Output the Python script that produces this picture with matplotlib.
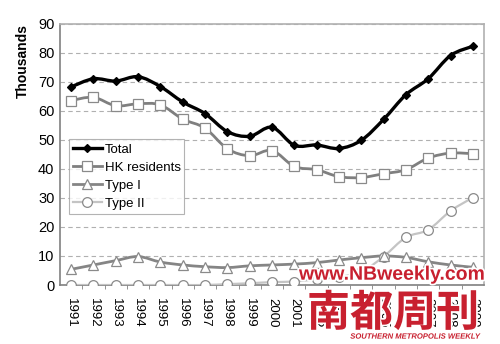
import matplotlib
matplotlib.use("Agg")
import matplotlib.pyplot as plt
import matplotlib.patheffects as pe
from matplotlib.path import Path
from matplotlib.patches import PathPatch

plt.rcParams['font.family'] = ['Liberation Sans', 'DejaVu Sans']

years = [str(y) for y in range(1991, 2010)]
total = [68.2, 71.0, 70.2, 71.7, 68.3, 63.0, 59.0, 52.8, 51.2, 54.3,
         48.1, 48.2, 47.0, 49.8, 57.0, 65.5, 71.0, 79.0, 82.2]
hk_residents = [63.5, 64.6, 61.7, 62.4, 62.0, 57.1, 54.0, 46.9, 44.5, 46.3,
                40.8, 39.7, 37.3, 37.0, 38.3, 39.7, 43.7, 45.4, 45.2]
type_1 = [5.4, 6.9, 8.4, 9.8, 7.9, 6.9, 6.3, 6.0, 6.6, 6.9,
          7.2, 7.7, 8.6, 9.4, 10.0, 9.5, 8.0, 6.9, 6.1]
type_2 = [0.0, 0.0, 0.0, 0.0, 0.0, 0.0, 0.0, 0.3, 0.6, 1.0,
          1.2, 2.0, 2.8, 4.5, 9.8, 16.4, 19.0, 25.5, 30.1]
y_ticks = [0, 10, 20, 30, 40, 50, 60, 70, 80, 90]


def smooth_path(xs, ys):
    # Excel-style smoothed line: Catmull-Rom turned into cubic Bezier segments
    pts = list(zip(xs, ys))
    verts = [pts[0]]
    codes = [Path.MOVETO]
    n = len(pts)
    for i in range(n - 1):
        p0 = pts[max(i - 1, 0)]
        p1 = pts[i]
        p2 = pts[i + 1]
        p3 = pts[min(i + 2, n - 1)]
        c1 = (p1[0] + (p2[0] - p0[0]) / 6, p1[1] + (p2[1] - p0[1]) / 6)
        c2 = (p2[0] - (p3[0] - p1[0]) / 6, p2[1] - (p3[1] - p1[1]) / 6)
        verts += [c1, c2, p2]
        codes += [Path.CURVE4] * 3
    return Path(verts, codes)


fig = plt.figure(figsize=(5, 3.44), dpi=100)
ax = fig.add_axes([0.12, 0.1715, 0.848, 0.76])

x = list(range(len(years)))
series = [
    ("Total", total, "black", "D", "black", 2.4, 4.5),
    ("HK residents", hk_residents, "#7f7f7f", "s", "white", 2.0, 7),
    ("Type I", type_1, "#858585", "^", "white", 2.0, 7.5),
    ("Type II", type_2, "#c4c4c4", "o", "white", 1.6, 7),
]
for label, vals, col, mk, face, lw, ms in series[::-1]:
    ax.add_patch(PathPatch(smooth_path(x, vals), facecolor="none",
                           edgecolor=col, lw=lw, zorder=3))
    ax.plot(x, vals, linestyle="none", marker=mk, markersize=ms,
            markerfacecolor=face, markeredgecolor="#8a8a8a" if face == "white" else col,
            markeredgewidth=0.9, zorder=4)

handles = []
for label, vals, col, mk, face, lw, ms in series:
    h, = ax.plot([], [], color=col, lw=lw, marker=mk, markersize=ms,
                 markerfacecolor=face,
                 markeredgecolor="#8a8a8a" if face == "white" else col,
                 markeredgewidth=0.9, label=label)
    handles.append(h)

leg = ax.legend(handles=handles, loc="upper left", bbox_to_anchor=(0.021, 0.557),
                fontsize=9.5, frameon=True, fancybox=False, handlelength=2.2,
                handletextpad=0.2, borderpad=0.3, labelspacing=0.45,
                borderaxespad=0)
leg.get_frame().set_edgecolor("#a0a0a0")
leg.get_frame().set_linewidth(0.8)

ax.set_xlim(-0.5, len(years) - 0.5)
ax.set_ylim(0, 90)
ax.set_yticks(y_ticks)
ax.set_yticklabels([str(v) for v in y_ticks], fontsize=10.5)
ax.set_xticks(x)
ax.set_xticklabels(years, rotation=270, fontsize=9.5)
ax.tick_params(axis="x", length=0, pad=9)
ax.tick_params(axis="y", length=0, pad=4)
# tick marks between categories
ax.set_xticks([i + 0.5 for i in x[:-1]], minor=True)
ax.tick_params(axis="x", which="minor", length=3, color="#808080")

ax.yaxis.grid(True, linestyle=(0, (4, 3)), color="#b0b0b0", lw=0.8)
ax.set_axisbelow(True)
for side in ["top", "right"]:
    ax.spines[side].set_color("#b0b0b0")
ax.spines["left"].set_color("#808080")
ax.spines["bottom"].set_color("#808080")
for s in ax.spines.values():
    s.set_linewidth(1.2)

ax.set_ylabel("Thousands", fontsize=10, fontweight="bold", labelpad=6, loc="top")

# watermark of the source
red = "#c8202f"
outline = [pe.withStroke(linewidth=2.5, foreground="white")]
fig.text(0.784, 0.2, "www.NBweekly.com", color=red, fontsize=14,
         fontweight="bold", ha="center", va="center", path_effects=outline)
fig.text(0.786, 0.09, "南都周刊", color=red, fontsize=31, fontweight="bold",
         ha="center", va="center", family=["Noto Sans CJK SC", "DejaVu Sans"],
         path_effects=outline)
fig.text(0.83, 0.02, "SOUTHERN METROPOLIS WEEKLY", color=red, fontsize=5.5,
         fontweight="bold", style="italic", ha="center", va="center",
         path_effects=outline)

fig.savefig("out.png", dpi=100)
